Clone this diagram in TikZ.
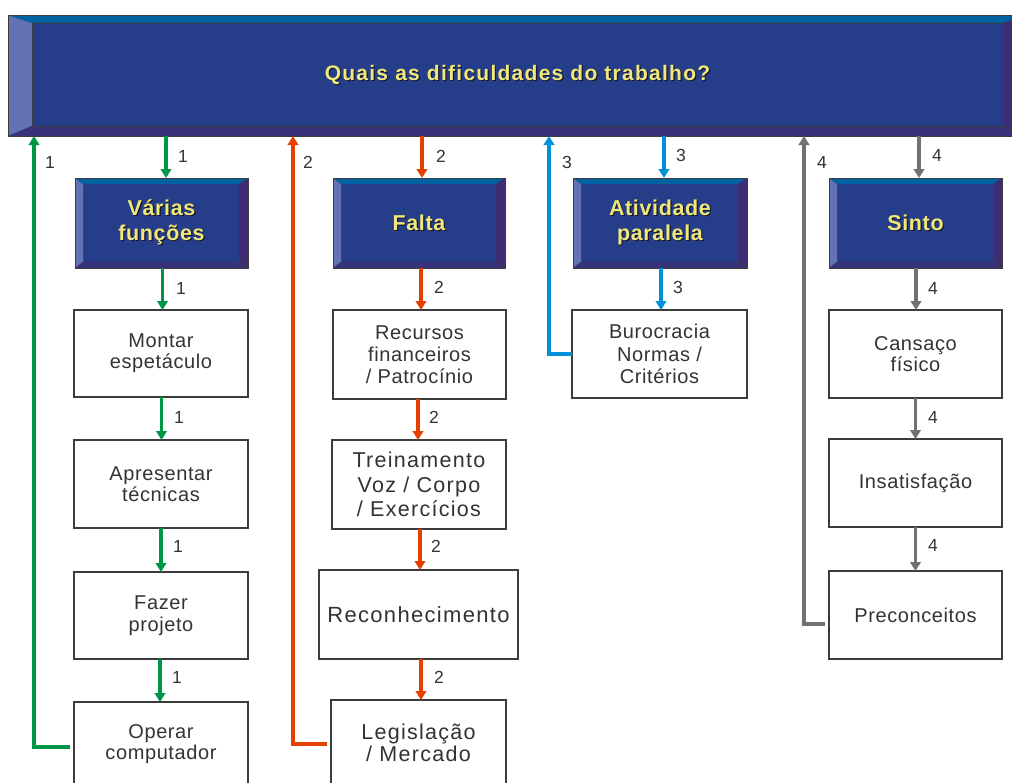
\documentclass[tikz,border=0pt]{standalone}
\usepackage{fontspec}
\setmainfont{Liberation Sans}
\newfontfamily\titlefont{Liberation Sans}[LetterSpace=6]
\newfontfamily\catfont{Liberation Sans}[LetterSpace=3]
\newfontfamily\boxfont{Liberation Sans}[LetterSpace=3]
\newfontfamily\boxfontw{Liberation Sans}[LetterSpace=6]
\usetikzlibrary{arrows.meta,calc}
\definecolor{innerc}{RGB}{38,62,138}
\definecolor{bvtop}{RGB}{0,98,160}
\definecolor{bvleft}{RGB}{98,114,178}
\definecolor{bvright}{RGB}{62,44,116}
\definecolor{bvbot}{RGB}{56,50,122}
\definecolor{ytext}{RGB}{240,232,122}
\definecolor{shc}{RGB}{22,22,40}
\definecolor{grn}{RGB}{0,150,72}
\definecolor{org}{RGB}{230,64,0}
\definecolor{blu}{RGB}{0,146,216}
\definecolor{gry}{RGB}{112,112,118}
\definecolor{txtc}{RGB}{51,51,51}
\definecolor{bordc}{RGB}{60,60,60}
\newcommand\shd[1]{\leavevmode\rlap{\kern1.2pt\raisebox{-1.2pt}{\textcolor{shc}{#1}}}#1}
\newcommand\bevel[5]{%
 \fill[bvleft] (#1.north west) -- ([shift={(#2pt,-#3pt)}]#1.north west) -- ([shift={(#2pt,#5pt)}]#1.south west) -- (#1.south west) -- cycle;
 \fill[bvtop] (#1.north west) -- (#1.north east) -- ([shift={(-#4pt,-#3pt)}]#1.north east) -- ([shift={(#2pt,-#3pt)}]#1.north west) -- cycle;
 \fill[bvright] (#1.north east) -- (#1.south east) -- ([shift={(-#4pt,#5pt)}]#1.south east) -- ([shift={(-#4pt,-#3pt)}]#1.north east) -- cycle;
 \fill[bvbot] (#1.south west) -- (#1.south east) -- ([shift={(-#4pt,#5pt)}]#1.south east) -- ([shift={(#2pt,#5pt)}]#1.south west) -- cycle;
 \draw[bordc, line width=0.8pt] (#1.south east) -- ([shift={(-#4pt,#5pt)}]#1.south east);
 \draw[bordc, line width=1pt] (#1.north west) rectangle (#1.south east);
}
\begin{document}
\begin{tikzpicture}[x=1pt,y=-1pt,
  catbox/.style={fill=innerc, text=ytext, align=center, inner sep=0pt, outer sep=0pt,
     minimum height=90pt, font=\fontsize{21.5}{25}\selectfont\catfont\bfseries},
  wbox/.style={draw=bordc, line width=1.2pt, fill=white, text=txtc, align=center,
     inner sep=0pt, outer sep=0pt, font=\fontsize{20}{21.5}\selectfont\boxfont},
  num/.style={text=txtc, inner sep=0pt, font=\fontsize{17.5}{19}\selectfont},
  flow/.style={line width=3.8pt, -{Triangle[length=9pt,width=10.5pt]}},
  ret/.style={flow, shorten <=4pt}]
\useasboundingbox (0,0) rectangle (1012,782);
% banner
\node[fill=innerc, text=ytext, inner sep=0pt, outer sep=0pt, minimum width=1019pt, minimum height=121pt,
  font=\fontsize{21}{24}\selectfont\titlefont\bfseries] (banner) at (517.5,75.5) {\shd{Quais as dificuldades do trabalho?}};
\bevel{banner}{24}{8}{24}{10}
\draw[bordc, line width=1pt] ([shift={(24pt,-8pt)}]banner.north west) rectangle ([shift={(-24pt,10pt)}]banner.south east);
% category boxes
\node[catbox, minimum width=173pt] (vf) at (161.5,223) {\shd{Várias}\\\shd{funções}};
\node[catbox, minimum width=172pt] (fa) at (419,223) {\shd{Falta}};
\node[catbox, minimum width=174pt] (ap) at (660,223) {\shd{Atividade}\\\shd{paralela}};
\node[catbox, minimum width=173pt] (si) at (915.5,223) {\shd{Sinto}};
\bevel{vf}{8}{6}{9}{6}
\bevel{fa}{8}{6}{9}{6}
\bevel{ap}{8}{6}{9}{6}
\bevel{si}{8}{6}{9}{6}
% column 1
\node[wbox, minimum width=174pt, minimum height=87pt, font=\fontsize{20}{21}\selectfont\boxfont] (mo) at (161,353.5) {Montar\\espetáculo};
\node[wbox, minimum width=174pt, minimum height=88pt, font=\fontsize{20}{20.5}\selectfont\boxfont] (at) at (161,484) {Apresentar\\técnicas};
\node[wbox, minimum width=174pt, minimum height=87pt, font=\fontsize{20}{22}\selectfont\boxfont] (fp) at (161,615.5) {Fazer\\projeto};
\node[wbox, minimum width=174pt, minimum height=84pt, font=\fontsize{20}{20.5}\selectfont\boxfont] (oc) at (161,744) {Operar\\computador};
% column 2
\node[wbox, minimum width=173pt, minimum height=89pt, font=\fontsize{20}{22}\selectfont\boxfont] (rf) at (419.5,354.5) {Recursos\\financeiros\\/ Patrocínio};
\node[wbox, minimum width=174pt, minimum height=89pt, font=\fontsize{21.5}{24.5}\selectfont\boxfontw] (tv) at (419,484.5) {Treinamento\\Voz / Corpo\\/ Exercícios};
\node[wbox, minimum width=199pt, minimum height=89pt, font=\fontsize{22}{24}\selectfont\boxfontw] (re) at (418.5,614.5) {Reconhecimento};
\node[wbox, minimum width=175pt, minimum height=86pt, font=\fontsize{21.5}{22.5}\selectfont\boxfontw] (lm) at (418.5,743) {Legislação\\/ Mercado};
% column 3
\node[wbox, minimum width=175pt, minimum height=88pt, font=\fontsize{20}{22.5}\selectfont\boxfont] (bn) at (659.5,354) {Burocracia\\Normas /\\Critérios};
% column 4
\node[wbox, minimum width=173pt, minimum height=88pt, font=\fontsize{20}{20.5}\selectfont\boxfont] (cf) at (915.5,354) {Cansaço\\físico};
\node[wbox, minimum width=173pt, minimum height=88pt] (in) at (915.5,483) {Insatisfação};
\node[wbox, minimum width=173pt, minimum height=88pt] (pc) at (915.5,615) {Preconceitos};
% connector x positions
\coordinate (g0) at (166,0); \coordinate (g1) at (162.5,0); \coordinate (g2) at (161.5,0);
\coordinate (g3) at (161,0); \coordinate (g4) at (160,0); \coordinate (gr) at (34,0); \coordinate (gy) at (0,747);
\coordinate (o0) at (422,0); \coordinate (o1) at (421,0); \coordinate (o2) at (418,0);
\coordinate (o3) at (420,0); \coordinate (o4) at (421,0); \coordinate (orr) at (293,0); \coordinate (oy) at (0,744);
\coordinate (b0) at (664,0); \coordinate (b1) at (661,0); \coordinate (br) at (549,0); \coordinate (by) at (0,354);
\coordinate (s0) at (919,0); \coordinate (s1) at (916,0); \coordinate (s2) at (915.5,0);
\coordinate (s3) at (915.5,0); \coordinate (sr) at (804,0); \coordinate (sy) at (0,624);
% green
\draw[flow,grn] (banner.south -| g0) -- (vf.north -| g0);
\draw[flow,grn] (vf.south -| g1) -- (mo.north -| g1);
\draw[flow,grn] (mo.south -| g2) -- (at.north -| g2);
\draw[flow,grn] (at.south -| g3) -- (fp.north -| g3);
\draw[flow,grn] (fp.south -| g4) -- (oc.north -| g4);
\draw[ret,grn] (oc.west |- gy) -| (banner.south -| gr);
% orange
\draw[flow,org] (banner.south -| o0) -- (fa.north -| o0);
\draw[flow,org] (fa.south -| o1) -- (rf.north -| o1);
\draw[flow,org] (rf.south -| o2) -- (tv.north -| o2);
\draw[flow,org] (tv.south -| o3) -- (re.north -| o3);
\draw[flow,org] (re.south -| o4) -- (lm.north -| o4);
\draw[ret,org] (lm.west |- oy) -| (banner.south -| orr);
% blue
\draw[flow,blu] (banner.south -| b0) -- (ap.north -| b0);
\draw[flow,blu] (ap.south -| b1) -- (bn.north -| b1);
\draw[flow,blu,shorten <=0pt] (bn.west |- by) -| (banner.south -| br);
% gray
\draw[flow,gry] (banner.south -| s0) -- (si.north -| s0);
\draw[flow,gry] (si.south -| s1) -- (cf.north -| s1);
\draw[flow,gry] (cf.south -| s2) -- (in.north -| s2);
\draw[flow,gry] (in.south -| s3) -- (pc.north -| s3);
\draw[ret,gry] (pc.west |- sy) -| (banner.south -| sr);
% labels
\node[num] (n1a) at (183,156) {1};
\node[num] (n1r) at (50,162) {1};
\node[num] (n1b) at (181,288) {1};
\node[num] (n1c) at (179,417) {1};
\node[num] (n1d) at (178,546) {1};
\node[num] (n1e) at (177,677) {1};
\node[num] (n2a) at (441,156) {2};
\node[num] (n2r) at (308,162) {2};
\node[num] (n2b) at (439,287) {2};
\node[num] (n2c) at (434,417) {2};
\node[num] (n2d) at (436,546) {2};
\node[num] (n2e) at (439,677) {2};
\node[num] (n3a) at (681,155) {3};
\node[num] (n3r) at (567,162) {3};
\node[num] (n3b) at (678,287) {3};
\node[num] (n4a) at (937,155) {4};
\node[num] (n4r) at (822,162) {4};
\node[num] (n4b) at (933,288) {4};
\node[num] (n4c) at (933,417) {4};
\node[num] (n4d) at (933,545) {4};
\end{tikzpicture}
\end{document}
